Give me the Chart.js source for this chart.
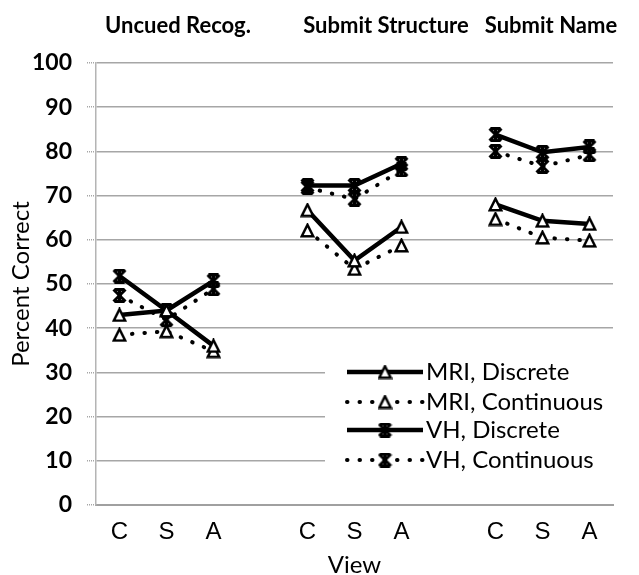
<!DOCTYPE html>
<html>
<head>
<meta charset="utf-8">
<script src="https://cdn.jsdelivr.net/npm/chart.js@4.4.1/dist/chart.umd.min.js"></script>
<style>
  html, body { margin: 0; padding: 0; background: #fff; }
  #wrap { width: 639px; height: 575px; }
</style>
</head>
<body>
<div id="wrap"><canvas id="chart" width="639" height="575"></canvas></div>
<script>
// ---- data ----
const categories    = ['C', 'S', 'A', '', 'C', 'S', 'A', '', 'C', 'S', 'A'];
const groupTitles   = ['Uncued Recog.', 'Submit Structure', 'Submit Name'];
const seriesNames   = ['MRI, Discrete', 'MRI, Continuous', 'VH, Discrete', 'VH, Continuous'];
const mriDiscrete   = [43, 44, 36, null, 66.7, 55.3, 62.9, null, 68, 64.3, 63.6];
const mriContinuous = [38.5, 39.3, 34.8, null, 62.1, 53.4, 58.7, null, 64.7, 60.5, 59.8];
const vhDiscrete    = [51.8, 44, 50.7, null, 72.3, 72.3, 77.2, null, 83.8, 79.8, 81];
const vhContinuous  = [47.4, 41.9, 48.9, null, 71.8, 69.2, 75.8, null, 80, 76.6, 79.2];
const yMin = 0, yMax = 100, yStep = 10;

// ---- markers (Excel-like triangle and star) ----
function makeTriangle(size, lw) {
  const c = document.createElement('canvas');
  c.width = c.height = size;
  const g = c.getContext('2d');
  const m = lw / 2 + 0.5;
  g.beginPath();
  g.moveTo(size / 2, m);
  g.lineTo(size - m, size - m);
  g.lineTo(m, size - m);
  g.closePath();
  g.fillStyle = '#fff';
  g.fill();
  g.lineWidth = lw;
  g.strokeStyle = '#000';
  g.stroke();
  return c;
}

function makeStar(size, lw) {
  const c = document.createElement('canvas');
  c.width = c.height = size;
  const g = c.getContext('2d');
  const m = lw / 2, s = size - m, h = size / 2;
  g.strokeStyle = '#000';
  g.lineWidth = lw;
  g.beginPath();
  g.moveTo(m, m); g.lineTo(s, s);
  g.moveTo(s, m); g.lineTo(m, s);
  g.moveTo(h, 0); g.lineTo(h, size);
  g.moveTo(m + 1, m); g.lineTo(s - 1, m);
  g.moveTo(m + 1, s); g.lineTo(s - 1, s);
  g.stroke();
  return c;
}

const triMark  = makeTriangle(15, 2.5);
const starMark = makeStar(15, 3);

const solid  = [];
const dotted = [0.5, 12];

function series(label, data, mark, dash, width) {
  return {
    label: label,
    data: data,
    borderColor: '#000',
    backgroundColor: '#fff',
    borderWidth: width,
    borderDash: dash,
    borderCapStyle: dash.length ? 'round' : 'butt',
    pointStyle: mark,
    pointRadius: 7,
    spanGaps: false,
    tension: 0
  };
}

// group titles above the plot
const groupTitlePlugin = {
  id: 'groupTitles',
  afterDraw(chart) {
    const ctx = chart.ctx;
    const centers = [178, 386, 551];
    ctx.save();
    ctx.font = 'bold 22px Lato';
    ctx.fillStyle = '#000';
    ctx.textAlign = 'center';
    ctx.textBaseline = 'middle';
    groupTitles.forEach((t, i) => ctx.fillText(t, centers[i], 26));
    ctx.restore();
  }
};

// legend drawn inside the plot, bottom right, on a white box
const innerLegend = {
  id: 'innerLegend',
  beforeDatasetsDraw(chart) {
    const a = chart.chartArea;
    const ctx = chart.ctx;
    ctx.save();
    ctx.fillStyle = '#fff';
    ctx.fillRect(a.left + 229, a.bottom - 168, a.right - a.left - 229 + 1, 138);
    ctx.restore();
  },
  afterDatasetsDraw(chart) {
    const ctx = chart.ctx;
    const area = chart.chartArea;
    const x0 = area.right - 266, x1 = area.right - 190;
    const rows = [133, 103, 75, 45];
    ctx.save();
    chart.data.datasets.forEach((ds, i) => {
      const y = area.bottom - rows[i];
      ctx.beginPath();
      ctx.setLineDash(ds.borderDash);
      ctx.lineCap = ds.borderCapStyle;
      ctx.lineWidth = ds.borderWidth;
      ctx.strokeStyle = '#000';
      ctx.moveTo(x0, y);
      ctx.lineTo(x1, y);
      ctx.stroke();
      const mk = ds.pointStyle;
      ctx.drawImage(mk, (x0 + x1) / 2 - mk.width / 2, y - mk.height / 2);
      ctx.setLineDash([]);
      ctx.font = '24px Lato';
      ctx.fillStyle = '#000';
      ctx.textAlign = 'left';
      ctx.textBaseline = 'middle';
      ctx.fillText(seriesNames[i], x1 + 3, y);
    });
    ctx.restore();
  }
};

new Chart(document.getElementById('chart').getContext('2d'), {
  type: 'line',
  data: {
    labels: categories,
    datasets: [
      series(seriesNames[0], mriDiscrete, triMark, solid, 4.5),
      series(seriesNames[1], mriContinuous, triMark, dotted, 4),
      series(seriesNames[2], vhDiscrete, starMark, solid, 4.5),
      series(seriesNames[3], vhContinuous, starMark, dotted, 4)
    ]
  },
  options: {
    responsive: false,
    animation: false,
    layout: { padding: { top: 63, right: 26, left: 0, bottom: 0 } },
    plugins: {
      legend: { display: false },
      tooltip: { enabled: false }
    },
    scales: {
      x: {
        offset: true,
        grid: { display: false, drawTicks: false },
        border: { color: '#a0a0a0', width: 2 },
        ticks: {
          font: { family: 'Liberation Sans', size: 24 },
          color: '#000',
          padding: 13,
          autoSkip: false,
          maxRotation: 0
        },
        title: {
          display: true,
          text: 'View',
          font: { family: 'Lato', size: 24, lineHeight: 1 },
          color: '#000',
          padding: { top: 0, bottom: -2 }
        },
        afterFit: s => { s.height = 70; }
      },
      y: {
        min: yMin,
        max: yMax,
        ticks: {
          stepSize: yStep,
          font: { family: 'Lato', weight: 'bold', size: 23 },
          color: '#000',
          padding: 15
        },
        grid: {
          color: '#a6a6a6',
          lineWidth: 1.5,
          tickLength: 9,
          tickColor: '#a6a6a6',
          tickBorderDash: [1, 1]
        },
        border: { color: '#b4b4b4', width: 1.5 },
        title: {
          display: true,
          text: 'Percent Correct',
          font: { family: 'Lato', size: 24 },
          color: '#000',
          padding: { top: 7, bottom: 0 }
        },
        afterFit: s => { s.width = 96; }
      }
    }
  },
  plugins: [groupTitlePlugin, innerLegend]
});
</script>
</body>
</html>
